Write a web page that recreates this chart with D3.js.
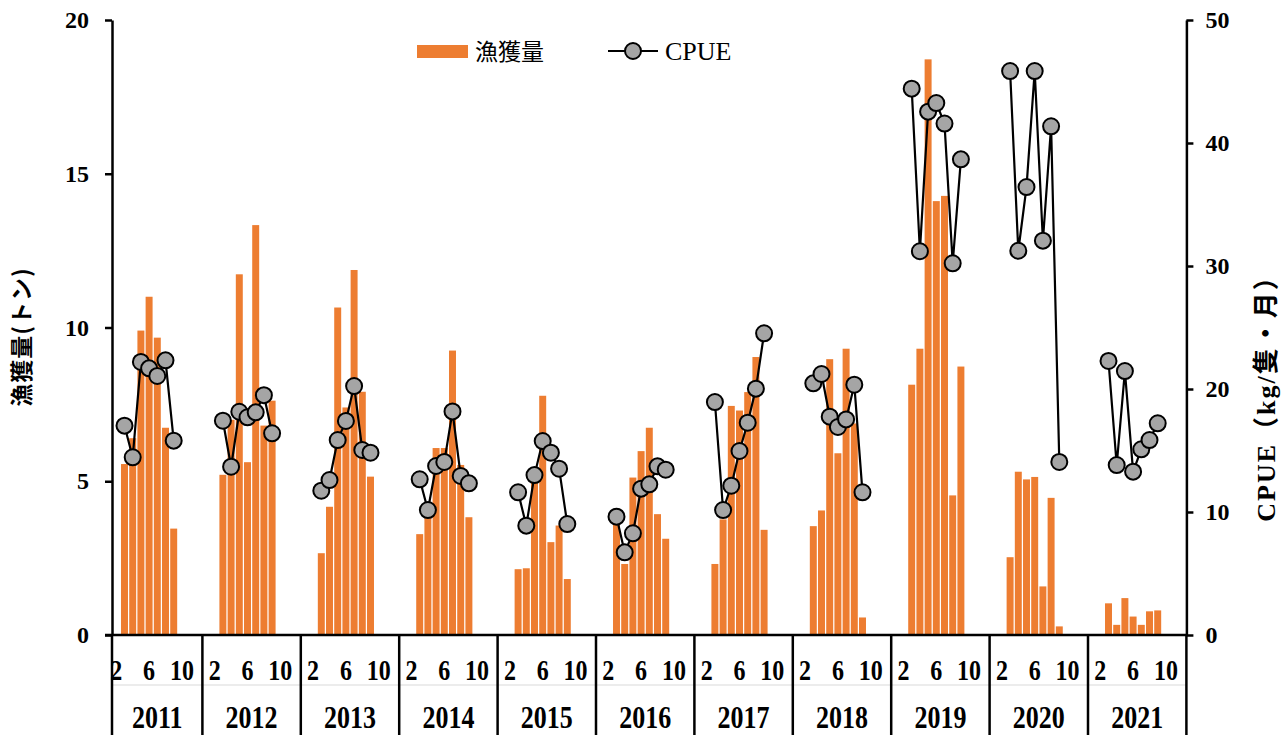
<!DOCTYPE html>
<html>
<head>
<meta charset="utf-8">
<script src="https://cdn.jsdelivr.net/npm/d3@7"></script>
<style>
  html, body { margin: 0; padding: 0; background: #ffffff; }
  svg { display: block; }
</style>
</head>
<body>
<svg id="chart" width="1288" height="735"></svg>
<script>
// Fishing seasons (March–September) for each year
const years = [2011, 2012, 2013, 2014, 2015, 2016, 2017, 2018, 2019, 2020, 2021];
const months = [3, 4, 5, 6, 7, 8, 9];

// Monthly catch (tonnes), one row per year, months 3..9
const catchTons = [
  [5.56, 6.40, 9.90, 11.00, 9.67, 6.74, 3.46],
  [5.21, 7.00, 11.73, 5.62, 13.33, 6.81, 7.62],
  [2.66, 4.17, 10.65, 7.40, 11.87, 7.91, 5.15],
  [3.28, 3.80, 6.08, 6.08, 9.25, 5.53, 3.83],
  [2.14, 2.17, 5.20, 7.78, 3.02, 3.56, 1.82],
  [3.60, 2.31, 5.12, 5.98, 6.74, 3.93, 3.13],
  [2.31, 3.76, 7.45, 7.30, 7.90, 9.04, 3.42],
  [3.54, 4.05, 8.97, 5.91, 9.31, 6.88, 0.57],
  [8.14, 9.31, 18.72, 14.11, 14.28, 4.54, 8.73],
  [2.53, 5.31, 5.06, 5.14, 1.58, 4.46, 0.28],
  [1.03, 0.33, 1.20, 0.60, 0.33, 0.77, 0.80]
];

// CPUE (kg per vessel per month), one row per year, months 3..9
const cpue = [
  [17.02, 14.45, 22.20, 21.68, 21.06, 22.33, 15.80],
  [17.42, 13.68, 18.15, 17.70, 18.10, 19.50, 16.40],
  [11.73, 12.60, 15.85, 17.40, 20.24, 15.04, 14.82],
  [12.66, 10.16, 13.74, 14.07, 18.18, 12.93, 12.33],
  [11.60, 8.89, 13.00, 15.77, 14.82, 13.52, 9.02],
  [9.62, 6.72, 8.27, 11.90, 12.25, 13.71, 13.44],
  [18.94, 10.16, 12.14, 14.96, 17.26, 20.03, 24.53],
  [20.46, 21.22, 17.75, 16.91, 17.53, 20.35, 11.60],
  [44.42, 31.20, 42.55, 43.25, 41.58, 30.22, 38.67],
  [45.85, 31.24, 36.42, 45.85, 32.06, 41.36, 14.07],
  [22.28, 13.82, 21.46, 13.28, 15.10, 15.85, 17.21]
];

const leftTicks = [0, 5, 10, 15, 20];
const rightTicks = [0, 10, 20, 30, 40, 50];
const monthTickLabels = [2, 6, 10];

const BAR_COLOR = "#ed7d31";
const SERIF = "'Liberation Serif', 'Times New Roman', serif";
const CJK = "'Noto Sans CJK JP', 'Noto Sans CJK SC', sans-serif";

const svg = d3.select("#chart");

const plotLeft = 104, plotRight = 1186.4, plotTop = 20, baseY = 635, yAxisX = 112, bottomEdge = 735;

// Year groups of twelve month slots
const xYear = d3.scaleBand().domain(years).range([plotLeft, plotRight]);
const xMonth = d3.scaleBand()
  .domain(d3.range(1, 13))
  .range([0, xYear.bandwidth()])
  .paddingInner(0.15)
  .paddingOuter(0.075);
const xCenter = (yr, m) => xYear(yr) + xMonth(m) + xMonth.bandwidth() / 2;

const yLeft = d3.scaleLinear().domain([0, 20]).range([baseY, plotTop]);
const yRight = d3.scaleLinear().domain([0, 50]).range([baseY, plotTop]);

// Catch bars
const barData = years.flatMap((yr, i) => months.map((m, j) => ({ yr, m, v: catchTons[i][j] })));
svg.append("g")
  .selectAll("rect")
  .data(barData)
  .join("rect")
  .attr("x", d => xYear(d.yr) + xMonth(d.m))
  .attr("width", xMonth.bandwidth())
  .attr("y", d => yLeft(d.v))
  .attr("height", d => yLeft(0) - yLeft(d.v))
  .attr("fill", BAR_COLOR);

// CPUE lines, one per season
const line = d3.line().x(d => xCenter(d.yr, d.m)).y(d => yRight(d.v));
const cpueSeasons = years.map((yr, i) => months.map((m, j) => ({ yr, m, v: cpue[i][j] })));
svg.append("g")
  .selectAll("path")
  .data(cpueSeasons)
  .join("path")
  .attr("d", line)
  .attr("fill", "none")
  .attr("stroke", "#000")
  .attr("stroke-width", 2.2);

svg.append("g")
  .selectAll("circle")
  .data(cpueSeasons.flat())
  .join("circle")
  .attr("cx", d => xCenter(d.yr, d.m))
  .attr("cy", d => yRight(d.v))
  .attr("r", 8)
  .attr("fill", "#a5a5a5")
  .attr("stroke", "#000")
  .attr("stroke-width", 2);

// Month and year labels under the baseline (tall, narrow glyphs)
const monthLabelData = years.flatMap(yr => monthTickLabels.map(m => ({ yr, m })));
svg.append("g")
  .selectAll("text")
  .data(monthLabelData)
  .join("text")
  .attr("transform", d => `translate(${xCenter(d.yr, d.m)},680) scale(1,1.2)`)
  .attr("text-anchor", "middle")
  .attr("font-family", SERIF)
  .attr("font-weight", "bold")
  .attr("font-size", 24)
  .text(d => d.m);

const yearBounds = years.map(yr => [Math.max(xYear(yr), yAxisX), xYear(yr) + xYear.bandwidth()]);
svg.append("g")
  .selectAll("text")
  .data(years)
  .join("text")
  .attr("transform", (d, i) => `translate(${(yearBounds[i][0] + yearBounds[i][1]) / 2},728) scale(1,1.2)`)
  .attr("text-anchor", "middle")
  .attr("font-family", SERIF)
  .attr("font-weight", "bold")
  .attr("font-size", 26)
  .text(d => d);

// Faint rule between month and year rows
svg.append("line")
  .attr("x1", yAxisX).attr("x2", plotRight)
  .attr("y1", 685).attr("y2", 685)
  .attr("stroke", "#d9d9d9").attr("stroke-width", 1);

// Year separators
svg.append("g")
  .selectAll("line")
  .data(years.slice(1).map(yr => xYear(yr)).concat([yAxisX, plotRight]))
  .join("line")
  .attr("x1", d => d).attr("x2", d => d)
  .attr("y1", baseY).attr("y2", bottomEdge)
  .attr("stroke", "#000").attr("stroke-width", 2.5);

// Category baseline
svg.append("line")
  .attr("x1", 105).attr("x2", plotRight)
  .attr("y1", baseY).attr("y2", baseY)
  .attr("stroke", "#000").attr("stroke-width", 2.5);

// Left axis (catch)
const axL = svg.append("g")
  .attr("transform", `translate(${yAxisX},0)`)
  .call(d3.axisLeft(yLeft).tickValues(leftTicks).tickSize(7).tickPadding(16).tickSizeOuter(0));
// Right axis (CPUE)
const axR = svg.append("g")
  .attr("transform", `translate(${plotRight},0)`)
  .call(d3.axisRight(yRight).tickValues(rightTicks).tickSize(7).tickPadding(12).tickSizeOuter(0));

[axL, axR].forEach(ax => {
  ax.select(".domain").attr("stroke", "#000").attr("stroke-width", 2.5);
  ax.selectAll(".tick line").attr("stroke", "#000").attr("stroke-width", 2.5);
  ax.selectAll(".tick text")
    .attr("fill", "#000")
    .attr("font-family", SERIF)
    .attr("font-weight", "bold")
    .attr("font-size", 24);
});

// Axis titles
svg.append("text")
  .attr("transform", "translate(30,337) rotate(-90)")
  .attr("text-anchor", "middle")
  .attr("font-family", CJK)
  .attr("font-weight", "bold")
  .attr("font-size", 23)
  .attr("letter-spacing", 1)
  .text("漁獲量(トン)");

svg.append("text")
  .attr("transform", "translate(1275,392) rotate(-90)")
  .attr("text-anchor", "middle")
  .attr("font-family", `${SERIF}, ${CJK}`)
  .attr("font-weight", "bold")
  .attr("font-size", 26)
  .attr("letter-spacing", 2)
  .text("CPUE（kg/隻・月）");

// Legend
const legend = svg.append("g");
legend.append("rect")
  .attr("x", 417).attr("y", 45).attr("width", 51).attr("height", 13)
  .attr("fill", BAR_COLOR);
legend.append("text")
  .attr("x", 475).attr("y", 60)
  .attr("font-family", CJK)
  .attr("font-size", 23)
  .text("漁獲量");
legend.append("line")
  .attr("x1", 608).attr("x2", 658).attr("y1", 51).attr("y2", 51)
  .attr("stroke", "#000").attr("stroke-width", 2.2);
legend.append("circle")
  .attr("cx", 633).attr("cy", 51).attr("r", 8)
  .attr("fill", "#a5a5a5").attr("stroke", "#000").attr("stroke-width", 2);
legend.append("text")
  .attr("x", 665).attr("y", 60)
  .attr("font-family", SERIF)
  .attr("font-size", 26)
  .text("CPUE");
</script>
</body>
</html>
